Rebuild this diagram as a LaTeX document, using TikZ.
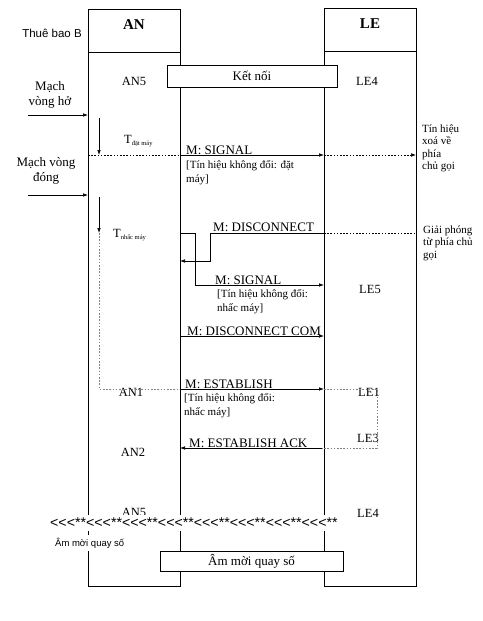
\documentclass[tikz,border=0pt]{standalone}
\usepackage{fontspec}
\setmainfont{Liberation Serif}
\setsansfont{Liberation Sans}
\newfontfamily\tonefont{Liberation Sans}
\usetikzlibrary{arrows.meta}

\tikzset{
  msg/.style={-{Latex[length=5pt,width=3.6pt]}, line width=0.7pt},
  dots/.style={dash pattern=on 1.6pt off 1.6pt, line width=0.6pt},
  frame/.style={line width=0.7pt},
  msglbl/.style={font=\fontsize{13}{15}\selectfont, inner sep=0pt, anchor=base west},
  note/.style={font=\fontsize{11}{14}\selectfont, inner sep=0pt, anchor=base west, align=left},
  rnote/.style={font=\fontsize{11}{12.5}\selectfont, inner sep=0pt, anchor=base west, align=left},
  state/.style={font=\fontsize{12.5}{14}\selectfont, inner sep=0pt, anchor=base},
  hdr/.style={font=\bfseries\fontsize{15}{17}\selectfont, inner sep=0pt, anchor=base},
  side/.style={font=\fontsize{13}{15}\selectfont, inner sep=0pt, anchor=base, align=center},
  bar/.style={draw, fill=white, line width=0.7pt, inner sep=0pt, font=\fontsize{13}{15}\selectfont}
}

\begin{document}
\begin{tikzpicture}[x=1pt,y=-1pt]
  \useasboundingbox (0,0) rectangle (482,621);
  % khung AN va LE
  \draw[frame] (88,9) rectangle (180,586);
  \draw[frame] (88,52) -- (180,52);
  \draw[frame] (324,8) rectangle (416,586);
  \draw[frame] (324,51) -- (416,51);
  \node[hdr] (an) at (134,29) {AN};
  \node[hdr] (le) at (370,28) {LE};
  \node[font=\sffamily\fontsize{11.5}{13}\selectfont, inner sep=0pt, anchor=base] (tbB) at (52,37) {Thuê bao B};

  % trang thai
  \node[bar, minimum width=170pt, minimum height=22pt] (ketnoi) at (252,76) {Kết nối};
  \node[state] (an5) at (134,85) {AN5};
  \node[state] (le4) at (367,85) {LE4};
  \node[state] (le5) at (370,293) {LE5};
  \node[state] (an1) at (131,396) {AN1};
  \node[state] (le1) at (369,396) {LE1};
  \node[state] (le3) at (368,442) {LE3};
  \node[state] (an2) at (133,456) {AN2};
  \node[state] (an5b) at (134,516) {AN5};
  \node[state] (le4b) at (368,517) {LE4};

  % mach vong
  \node[side] (vho) at (50,105) {Mạch\\vòng hở};
  \node[side] (vdong) at (46,181) {Mạch vòng\\đóng};
  \coordinate (hoA) at (28,115);
  \coordinate (hoB) at (88,115);
  \draw[msg] (hoA) -- (hoB);
  \coordinate (dongA) at (28,195);
  \coordinate (dongB) at (88,195);
  \draw[msg] (dongA) -- (dongB);

  % dat may
  \coordinate (tdA) at (99,118);
  \coordinate (tdB) at (99,155);
  \draw[msg] (tdA) -- (tdB);
  \node[state, anchor=base west] (tdat) at (124,143) {T\raisebox{-2pt}{\fontsize{6.5}{7}\selectfont đặt máy}};
  \coordinate (sigL) at (88,155);
  \coordinate (sigM) at (180,155);
  \coordinate (sigR) at (324,155);
  \coordinate (sigX) at (416,155);
  \draw[dots] (sigL) -- (sigM);
  \draw[msg] (sigM) -- (sigR);
  \draw[dots, -{Latex[length=5pt,width=3.6pt]}] (sigR) -- (sigX);
  \node[msglbl] (msig) at (186,154) {M: SIGNAL};
  \node[note] (nsig) at (186,182) {[Tín hiệu không đổi: đặt\\máy]};
  \node[rnote] (xoa) at (422,169.5) {Tín hiệu\\xoá về\\phía\\chủ gọi};

  % nhac may
  \coordinate (tnA) at (99,197);
  \coordinate (tnB) at (99,233);
  \coordinate (tnC) at (99,389);
  \draw[msg] (tnA) -- (tnB);
  \node[state, anchor=base west] (tnhac) at (113,237) {T\raisebox{-2pt}{\fontsize{6.5}{7}\selectfont nhấc máy}};

  % M: DISCONNECT
  \coordinate (discR) at (324,233);
  \coordinate (discK) at (210,261);
  \coordinate (discL) at (180,261);
  \coordinate (discX) at (416,233);
  \draw[msg] (discR) -| (discK) -- (discL);
  \draw[dots] (discR) -- (discX);
  \node[msglbl] (mdisc) at (213,231) {M: DISCONNECT};
  \node[rnote] (giai) at (423,258) {Giải phóng\\từ phía chủ\\gọi};

  % M: SIGNAL (nhac may)
  \coordinate (sig2L) at (180,233);
  \coordinate (sig2K) at (195,285);
  \coordinate (sig2R) at (324,285);
  \draw[msg] (sig2L) -| (sig2K) -- (sig2R);
  \node[msglbl] (msig2) at (215,284) {M: SIGNAL};
  \node[note] (nsig2) at (217,311) {[Tín hiệu không đổi:\\nhấc máy]};

  % M: DISCONNECT COM
  \coordinate (dcL) at (180,336);
  \coordinate (dcR) at (324,336);
  \draw[msg] (dcL) -- (dcR);
  \node[msglbl] (mdc) at (187,335) {M: DISCONNECT COM};

  % M: ESTABLISH
  \coordinate (estL) at (180,389);
  \coordinate (estR) at (324,389);
  \coordinate (estK) at (377,389);
  \draw[dots, gray] (tnB) -- (tnC) -- (estL);
  \draw[msg] (estL) -- (estR);
  \node[msglbl] (mest) at (185,388) {M: ESTABLISH};
  \node[note] (nest) at (184,415) {[Tín hiệu không đổi:\\nhấc máy]};

  % M: ESTABLISH ACK
  \coordinate (ackK) at (377,448);
  \coordinate (ackR) at (322,448);
  \coordinate (ackL) at (180,448);
  \draw[dots, gray] (estR) -- (estK) -- (ackK) -- (ackR);
  \draw[msg] (ackR) -- (ackL);
  \node[msglbl] (mack) at (189,447) {M: ESTABLISH ACK};

  % am moi quay so
  \node[font=\tonefont\fontsize{14.2}{15}\selectfont, fill=white, inner xsep=1pt, inner ysep=3pt, anchor=west] (tone) at (49,523) {<<<**<<<**<<<**<<<**<<<**<<<**<<<**<<<**};
  \node[font=\sffamily\fontsize{9.5}{11}\selectfont, fill=white, inner sep=3pt, anchor=base west] (tonelbl) at (52,546) {Âm mời quay số};
  \node[bar, minimum width=183pt, minimum height=20pt] (ammoi) at (251.5,561) {Âm mời quay số};
\end{tikzpicture}
\end{document}
